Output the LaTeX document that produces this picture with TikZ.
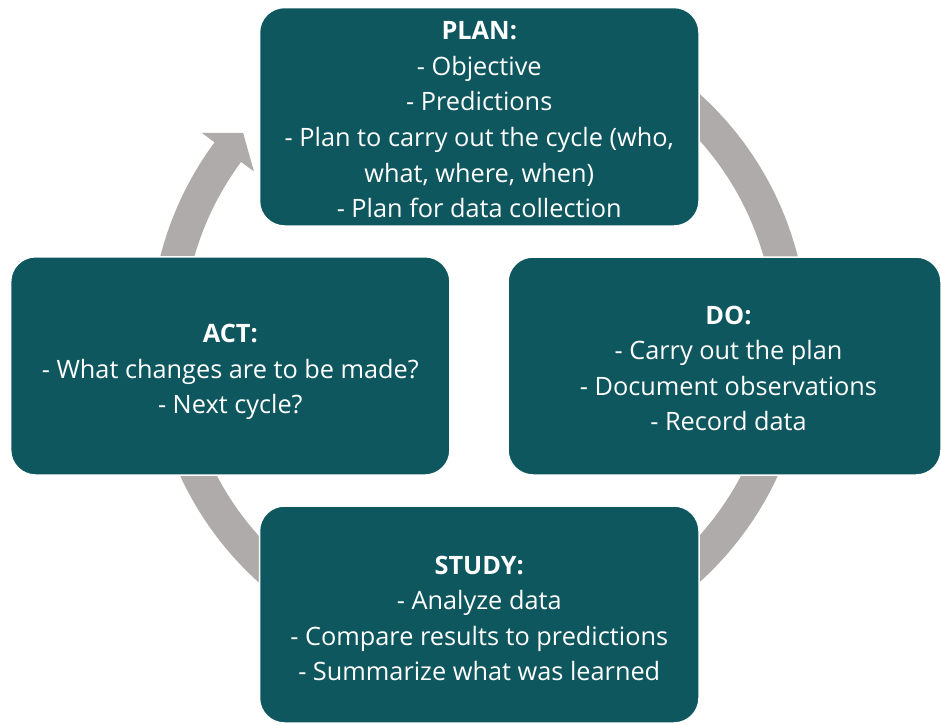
\documentclass[tikz,border=0pt]{standalone}
\usepackage{fontspec}
\setmainfont{Open Sans}
\definecolor{boxteal}{RGB}{15,87,94}
\definecolor{ringgrey}{RGB}{175,171,171}
\begin{document}
\begin{tikzpicture}[x=1pt,y=-1pt,
  pdsabox/.style={fill=boxteal, draw=white, line width=1.5pt, rounded corners=25pt, inner sep=0pt},
  pdsatext/.style={text=white, align=center, inner sep=0pt,
    font=\fontsize{25.3}{35.6}\selectfont},
  ring/.style={fill=ringgrey}]
\useasboundingbox (0,0) rectangle (941,724);
% circular arrow ring
\begin{scope}[shift={(479,338)}, y=1pt]
  \fill[ring] (100:329) arc[start angle=100, end angle=-216.5, radius=329]
    -- (143.5:345) -- (139:312.5) -- (143.5:280) -- (143.5:296)
    arc[start angle=-216.5, end angle=100, radius=296] -- cycle;
\end{scope}
% boxes
\node[pdsabox, minimum width=439.5pt, minimum height=218.5pt] (plan) at (479.25,116.75) {};
\node[pdsabox, minimum width=433pt, minimum height=218pt] (do) at (724.5,366) {};
\node[pdsabox, minimum width=439.3pt, minimum height=218.3pt] (act) at (230.3,365.9) {};
\node[pdsabox, minimum width=439.5pt, minimum height=217pt] (study) at (479.25,614.5) {};
% texts
\node[pdsatext] (plantext) at ([yshift=-3pt]plan.center)
  {\textbf{PLAN:}\\- Objective\\- Predictions\\- Plan to carry out the cycle (who,\\what, where, when)\\- Plan for data collection};
\node[pdsatext] (dotext) at ([xshift=4pt,yshift=-2.5pt]do.center)
  {\textbf{DO:}\\- Carry out the plan\\- Document observations\\- Record data};
\node[pdsatext] (acttext) at ([yshift=-6pt]act.center)
  {\textbf{ACT:}\\- What changes are to be made?\\- Next cycle?};
\node[pdsatext] (studytext) at ([yshift=-4pt]study.center)
  {\textbf{STUDY:}\\- Analyze data\\- Compare results to predictions\\- Summarize what was learned};
\end{tikzpicture}
\end{document}
